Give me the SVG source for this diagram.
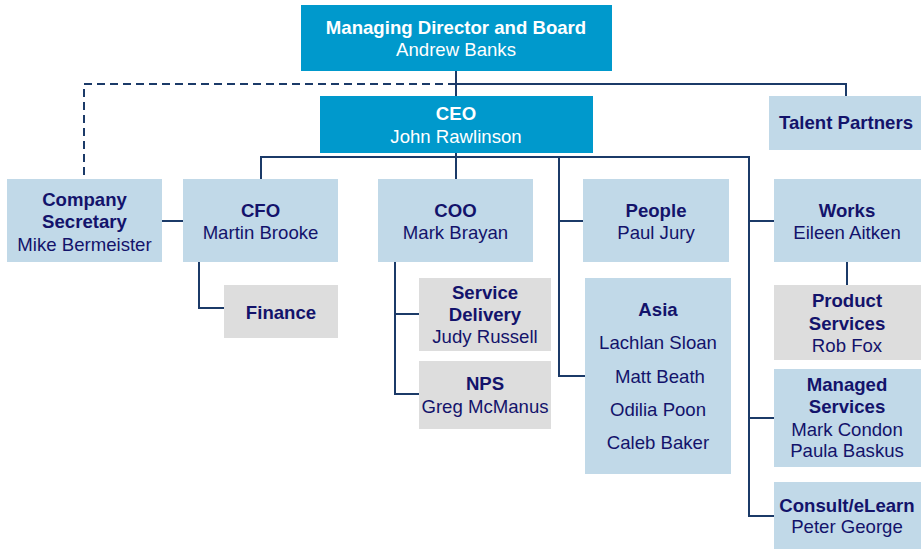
<svg xmlns="http://www.w3.org/2000/svg" width="921" height="549" viewBox="0 0 921 549">
<style>
.dk{fill:#0099CC}
.lb{fill:#C1D9E8}
.gr{fill:#DDDDDD}
text{font-family:"Liberation Sans",Arial,sans-serif;font-size:18.6px;text-anchor:middle;fill:#13136B}
.w{fill:#FFFFFF}
.b{font-weight:bold}
.c{fill:none;stroke:#1B3A68;stroke-width:2}
.d{stroke-dasharray:8,5}
</style>
<rect width="921" height="549" fill="#FFFFFF"/>
<g id="connectors">
<path class="c" d="M456,71V96"/>
<path class="c" d="M456,84H846V96"/>
<path class="c d" d="M456,84H84V179"/>
<path class="c" d="M261,179V157H749V516H774"/>
<path class="c" d="M456,153V179"/>
<path class="c" d="M559,157V376H585"/>
<path class="c" d="M559,221H583"/>
<path class="c" d="M749,221H774"/>
<path class="c" d="M749,418H774"/>
<path class="c" d="M162,221H183"/>
<path class="c" d="M199,262V308H224"/>
<path class="c" d="M395,262V394H419"/>
<path class="c" d="M395,314H419"/>
<path class="c" d="M847,262V285"/>
</g>
<g id="md"><rect class="dk" x="301" y="5" width="311" height="66"/><text class="w b" x="456" y="34">Managing Director and Board</text><text class="w" x="456" y="56">Andrew Banks</text></g>
<g id="ceo"><rect class="dk" x="320" y="96" width="273" height="57"/><text class="w b" x="456" y="120">CEO</text><text class="w" x="456" y="143">John Rawlinson</text></g>
<g id="talent"><rect class="lb" x="769" y="96" width="152" height="54"/><text class="b" x="846" y="129">Talent Partners</text></g>
<g id="cosec"><rect class="lb" x="7" y="179" width="155" height="83"/><text class="b" x="84.5" y="206">Company</text><text class="b" x="84.5" y="228">Secretary</text><text x="84.5" y="251">Mike Bermeister</text></g>
<g id="cfo"><rect class="lb" x="183" y="179" width="155" height="83"/><text class="b" x="260.5" y="217">CFO</text><text x="260.5" y="239">Martin Brooke</text></g>
<g id="finance"><rect class="gr" x="224" y="285" width="114" height="53"/><text class="b" x="281" y="319">Finance</text></g>
<g id="coo"><rect class="lb" x="378" y="179" width="155" height="83"/><text class="b" x="455.5" y="217">COO</text><text x="455.5" y="239">Mark Brayan</text></g>
<g id="servdel"><rect class="gr" x="419" y="278" width="132" height="73"/><text class="b" x="485" y="299">Service</text><text class="b" x="485" y="321">Delivery</text><text x="485" y="343">Judy Russell</text></g>
<g id="nps"><rect class="gr" x="419" y="361" width="132" height="68"/><text class="b" x="485" y="390">NPS</text><text x="485" y="413">Greg McManus</text></g>
<g id="people"><rect class="lb" x="583" y="179" width="146" height="83"/><text class="b" x="656" y="217">People</text><text x="656" y="239">Paul Jury</text></g>
<g id="asia"><rect class="lb" x="585" y="278" width="146" height="196"/><text class="b" x="658" y="316">Asia</text><text x="658" y="349">Lachlan Sloan</text><text x="660" y="383">Matt Beath</text><text x="658" y="416">Odilia Poon</text><text x="658" y="449">Caleb Baker</text></g>
<g id="works"><rect class="lb" x="774" y="179" width="147" height="83"/><text class="b" x="847" y="217">Works</text><text x="847" y="239">Eileen Aitken</text></g>
<g id="prodserv"><rect class="gr" x="774" y="285" width="147" height="75"/><text class="b" x="847" y="307">Product</text><text class="b" x="847" y="330">Services</text><text x="847" y="352">Rob Fox</text></g>
<g id="managed"><rect class="lb" x="774" y="369" width="147" height="98"/><text class="b" x="847" y="391">Managed</text><text class="b" x="847" y="413">Services</text><text x="847" y="436">Mark Condon</text><text x="847" y="457">Paula Baskus</text></g>
<g id="consult"><rect class="lb" x="774" y="482" width="147" height="67"/><text class="b" x="847" y="512">Consult/eLearn</text><text x="847" y="533">Peter George</text></g>
</svg>
